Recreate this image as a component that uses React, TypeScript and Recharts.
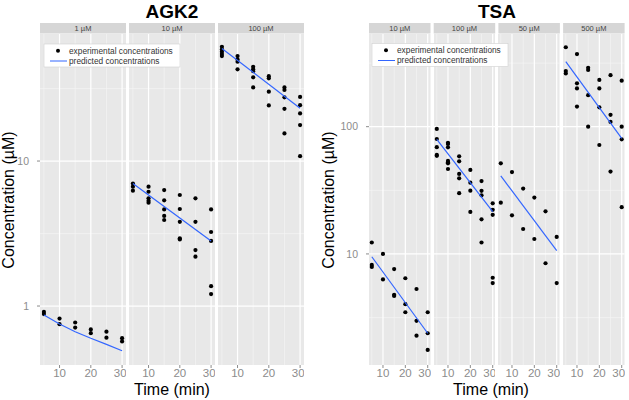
import { CartesianGrid, ReferenceLine, Scatter, ScatterChart, XAxis, YAxis } from "recharts";

// sampling times (min)
const TIMES = [5, 10, 15, 20, 25, 30];
const PRED_ENDS = [5, 30];
const X_TICKS = [10, 20, 30];
const X_MINOR = [5, 15, 25];

// AGK2, measured concentrations per time point (µM)
const agk2Exp1 = [[0.91, 0.88], [0.82, 0.75], [0.77, 0.71], [0.69, 0.65], [0.665, 0.605], [0.6, 0.57]];
const agk2Exp10 = [
    [7.0, 6.66, 6.25],
    [6.66, 6.14, 5.53, 5.32, 5.16],
    [6.31, 5.36, 4.64, 4.18, 3.92],
    [5.83, 4.67, 3.81, 2.93, 2.88],
    [5.53, 3.81, 2.43, 2.19],
    [4.64, 3.24, 2.81, 1.37, 1.21],
];
const agk2Exp100 = [
    [61.4, 58.9, 56.7, 54.7, 53],
    [53, 50.2, 48.4, 42.9],
    [44.7, 43, 41.7, 37.8, 32.2],
    [38.5, 37.2, 30.1, 24.2],
    [32.2, 30.9, 27.5, 22.9, 15.5],
    [27.7, 24.3, 21.3, 17.7, 10.8],
];
const agk2Pred1 = [0.867, 0.751, 0.665, 0.599, 0.544, 0.492];
const agk2Pred10 = [7.0, 2.81];
const agk2Pred100 = [59.8, 23.1];

// TSA, measured concentrations per time point (µM)
const tsaExp10 = [[12.3, 8.2, 7.9], [10.0, 6.3], [7.6, 4.77, 4.68], [6.44, 4.03, 3.48], [5.3, 2.98, 2.28], [3.48, 2.38, 1.76]];
const tsaExp100 = [
    [96, 80, 69, 60, 59],
    [74.8, 73.1, 68.8, 53.8, 52.5, 51.5, 46.5],
    [58.5, 53.4, 42.5, 39.3, 30],
    [45.7, 36.3, 31.4, 21.4],
    [37.4, 31.3, 28.9, 18.7, 12.3],
    [25, 22.2, 20.3, 6.5, 5.9],
];
const tsaExp50 = [[51.5, 25.3], [44, 20.1], [32.6, 15.7], [27.7, 13.1], [21.6, 8.45], [13.6, 5.9]];
const tsaExp500 = [
    [421, 274, 262],
    [372, 219, 200, 144],
    [290, 279, 177, 100],
    [233, 200, 142, 71.8],
    [254, 124, 109, 44.4],
    [230, 100, 79.6, 23.3],
];
const tsaPred10 = [9.5, 2.38];
const tsaPred100 = [79.6, 21.5];
const tsaPred50 = [41, 10.6];
const tsaPred500 = [324, 81];

const AGK2_LABELS = ["1 µM", "10 µM", "100 µM"];
const TSA_LABELS = ["10 µM", "100 µM", "50 µM", "500 µM"];
const AGK2_Y_TICKS = [1, 10];
const AGK2_Y_MINOR = [0.316, 3.16, 31.6];
const TSA_Y_TICKS = [10, 100];
const TSA_Y_MINOR = [3.16, 31.6, 316];

const FONT = "'Liberation Sans', Arial, sans-serif";
const PLOT_TOP = 34;
const PLOT_H = 331;
const AXIS_W = 40;
const BLUE = "#3366ff";

const toPoints = (vals: number[][]) => vals.flatMap((row, i) => row.map((c) => ({ t: TIMES[i], c })));
const toLine = (times: number[], vals: number[]) => vals.map((c, i) => ({ t: times[i], c }));

const dot = (p: any) => <circle cx={p.cx} cy={p.cy} r={2.1} fill="#000" />;
const noShape = () => <g />;

function Facet({ x, w, showY, domain, yTicks, yMinor, exp, pred }: any) {
    const axisW = showY ? AXIS_W : 0;
    return (
        <div style={{ position: "absolute", left: x - axisW, top: PLOT_TOP }}>
            <ScatterChart width={w + axisW} height={PLOT_H + 22} margin={{ top: 0, right: 0, bottom: 0, left: 0 }}>
                <CartesianGrid fill="#e8e8e8" stroke="none" horizontal={false} vertical={false} />
                {X_MINOR.map((v) => <ReferenceLine key={"xm" + v} x={v} stroke="#f6f6f6" strokeWidth={0.6} />)}
                {yMinor.map((v: number) => <ReferenceLine key={"ym" + v} y={v} stroke="#f6f6f6" strokeWidth={0.6} />)}
                {X_TICKS.map((v) => <ReferenceLine key={"x" + v} x={v} stroke="#fff" strokeWidth={1.2} />)}
                {yTicks.map((v: number) => <ReferenceLine key={"y" + v} y={v} stroke="#fff" strokeWidth={1.2} />)}
                <XAxis
                    type="number"
                    dataKey="t"
                    domain={[3.75, 31.25]}
                    ticks={X_TICKS}
                    allowDataOverflow
                    height={22}
                    axisLine={false}
                    tickSize={3}
                    tickMargin={1}
                    tickLine={{ stroke: "#8c8c8c" }}
                    tick={{ fontSize: 11.5, fill: "#8c8c8c", fontFamily: FONT }}
                />
                <YAxis
                    type="number"
                    dataKey="c"
                    scale="log"
                    domain={domain}
                    ticks={yTicks}
                    allowDataOverflow
                    hide={!showY}
                    width={axisW}
                    axisLine={false}
                    tickSize={3}
                    tickMargin={8}
                    tickLine={{ stroke: "#8c8c8c" }}
                    tick={{ fontSize: 10.5, fill: "#8c8c8c", fontFamily: FONT }}
                />
                <Scatter data={exp} shape={dot} isAnimationActive={false} />
                <Scatter
                    data={pred}
                    shape={noShape}
                    line={{ stroke: BLUE, strokeWidth: 1.2 }}
                    stroke={BLUE}
                    isAnimationActive={false}
                />
            </ScatterChart>
        </div>
    );
}

function Legend({ x, y }: { x: number; y: number }) {
    return (
        <g fontFamily={FONT} fontSize={8.3} fill="#333">
            <rect x={x} y={y} width={136} height={23} fill="#fff" stroke="#d0d0d0" strokeWidth={0.6} />
            <circle cx={x + 14} cy={y + 6.8} r={2} fill="#000" />
            <text x={x + 25} y={y + 9.6}>experimental concentrations</text>
            <line x1={x + 6} x2={x + 23} y1={y + 17} y2={y + 17} stroke={BLUE} strokeWidth={1} />
            <text x={x + 25} y={y + 19.9}>predicted concentrations</text>
        </g>
    );
}

const AGK2_X = [40, 129, 218];
const AGK2_W = 86;
const TSA_X = [369, 433.7, 498.4, 563.1];
const TSA_W = 61.5;

export default function App() {
    const agk2 = [
        { exp: toPoints(agk2Exp1), pred: toLine(TIMES, agk2Pred1) },
        { exp: toPoints(agk2Exp10), pred: toLine(PRED_ENDS, agk2Pred10) },
        { exp: toPoints(agk2Exp100), pred: toLine(PRED_ENDS, agk2Pred100) },
    ];
    const tsa = [
        { exp: toPoints(tsaExp10), pred: toLine(PRED_ENDS, tsaPred10) },
        { exp: toPoints(tsaExp100), pred: toLine(PRED_ENDS, tsaPred100) },
        { exp: toPoints(tsaExp50), pred: toLine(PRED_ENDS, tsaPred50) },
        { exp: toPoints(tsaExp500), pred: toLine(PRED_ENDS, tsaPred500) },
    ];

    return (
        <div style={{ position: "absolute", left: 0, top: 0, width: 629, height: 400, background: "#fff", overflow: "hidden" }}>
            {agk2.map((f, i) => (
                <Facet key={"a" + i} x={AGK2_X[i]} w={AGK2_W} showY={i === 0} domain={[0.392, 75.2]}
                    yTicks={AGK2_Y_TICKS} yMinor={AGK2_Y_MINOR} exp={f.exp} pred={f.pred} />
            ))}
            {tsa.map((f, i) => (
                <Facet key={"t" + i} x={TSA_X[i]} w={TSA_W} showY={i === 0} domain={[1.34, 535]}
                    yTicks={TSA_Y_TICKS} yMinor={TSA_Y_MINOR} exp={f.exp} pred={f.pred} />
            ))}
            <svg width={629} height={400} style={{ position: "absolute", left: 0, top: 0, pointerEvents: "none" }} fontFamily={FONT}>
                <text x={172} y={18} textAnchor="middle" fontSize={19} fontWeight="bold" fill="#000">AGK2</text>
                <text x={497} y={18} textAnchor="middle" fontSize={19} fontWeight="bold" fill="#000">TSA</text>
                {AGK2_LABELS.map((l, i) => (
                    <g key={l}>
                        <rect x={AGK2_X[i]} y={23} width={AGK2_W} height={10.5} fill="#d6d6d6" />
                        <text x={AGK2_X[i] + AGK2_W / 2} y={31} textAnchor="middle" fontSize={7.5} fill="#444">{l}</text>
                    </g>
                ))}
                {TSA_LABELS.map((l, i) => (
                    <g key={l}>
                        <rect x={TSA_X[i]} y={23} width={TSA_W} height={10.5} fill="#d6d6d6" />
                        <text x={TSA_X[i] + TSA_W / 2} y={31} textAnchor="middle" fontSize={7.5} fill="#444">{l}</text>
                    </g>
                ))}
                <Legend x={44} y={44} />
                <Legend x={372} y={43.5} />
                <text x={172} y={395} textAnchor="middle" fontSize={16} fill="#000">Time (min)</text>
                <text x={491} y={395} textAnchor="middle" fontSize={16} fill="#000">Time (min)</text>
                <text transform="translate(13.5,200) rotate(-90)" textAnchor="middle" fontSize={16} fill="#000">Concentration (µM)</text>
                <text transform="translate(334,200) rotate(-90)" textAnchor="middle" fontSize={16} fill="#000">Concentration (µM)</text>
            </svg>
        </div>
    );
}
